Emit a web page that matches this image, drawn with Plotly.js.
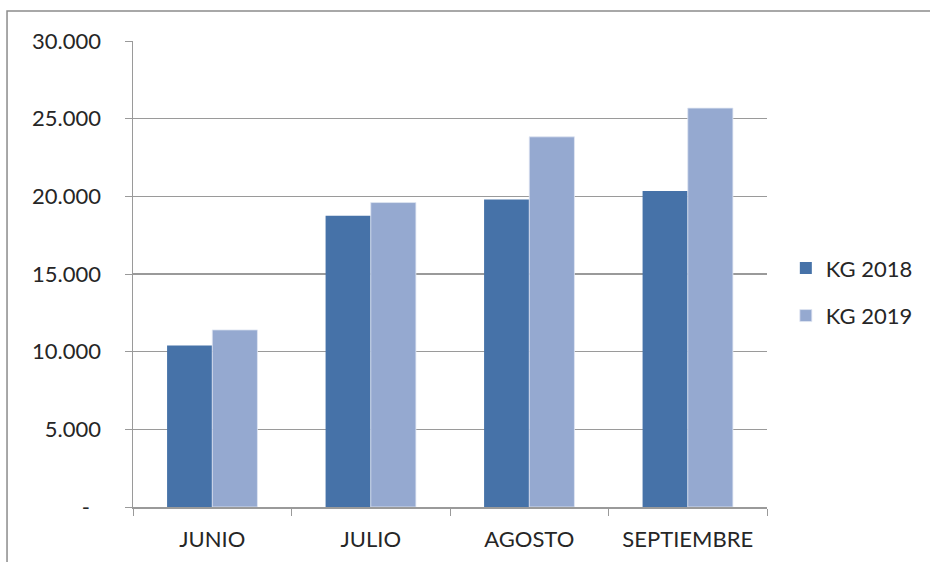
<!DOCTYPE html>
<html>
<head>
<meta charset="utf-8">
<script src="https://cdn.plot.ly/plotly-3.0.1.min.js"></script>
<style>html,body{margin:0;padding:0;background:#fff;}#chart{width:930px;height:562px;}</style>
</head>
<body>
<div id="chart"></div>
<script>
const months = ["JUNIO", "JULIO", "AGOSTO", "SEPTIEMBRE"];
const kg2018 = [10400, 18750, 19800, 20350];
const kg2019 = [11400, 19600, 23830, 25680];
const seriesNames = ["KG 2018", "KG 2019"];
const yTickVals = [0, 5000, 10000, 15000, 20000, 25000, 30000];
const yTickText = ["-\u00a0\u00a0", "5.000", "10.000", "15.000", "20.000", "25.000", "30.000"];

const fontFam = "Lato, 'Open Sans', sans-serif";
const traces = [
  {type: "bar", name: seriesNames[0], x: months, y: kg2018, legendgroup: "a",
   marker: {color: "#4672a8", line: {color: "#4672a8", width: 0}}},
  {type: "bar", name: seriesNames[1], x: months, y: kg2019, legendgroup: "b",
   marker: {color: "#95a9d0", line: {color: "#dfe6f2", width: 0.8}}}
];
const layout = {
  width: 930, height: 562,
  margin: {l: 133, r: 163, t: 41, b: 55},
  paper_bgcolor: "#fff", plot_bgcolor: "#fff",
  font: {family: fontFam, size: 22, color: "#262626"},
  barmode: "group", bargap: 0.43, bargroupgap: 0,
  showlegend: true,
  legend: {x: 1.0297, xanchor: "left", y: 0.461, yanchor: "middle",
           font: {family: fontFam, size: 22, color: "#262626"},
           tracegroupgap: 16, itemwidth: 30},
  xaxis: {type: "category", tickson: "boundaries", ticks: "outside", ticklen: 7,
          tickcolor: "#9a9a9a", showline: true, linecolor: "#9a9a9a", linewidth: 1.5,
          showgrid: false, tickfont: {size: 22}, automargin: false, ticklabelstandoff: 12},
  yaxis: {range: [0, 30000], tickvals: yTickVals, ticktext: yTickText,
          ticks: "outside", ticklen: 7, tickcolor: "#9a9a9a",
          showline: true, linecolor: "#9a9a9a", linewidth: 1.5,
          showgrid: true, gridcolor: "#9a9a9a", gridwidth: 1.5, zeroline: false,
          tickfont: {size: 22}, automargin: false, ticklabelstandoff: 19},
  shapes: [{type: "rect", xref: "paper", yref: "paper",
            x0: -0.1987, x1: 1.3, y0: 1.0644, y1: -0.2,
            line: {color: "#8c8c8c", width: 1.5}, layer: "below"}]
};
Plotly.newPlot("chart", traces, layout, {displayModeBar: false, staticPlot: true});
</script>
</body>
</html>
